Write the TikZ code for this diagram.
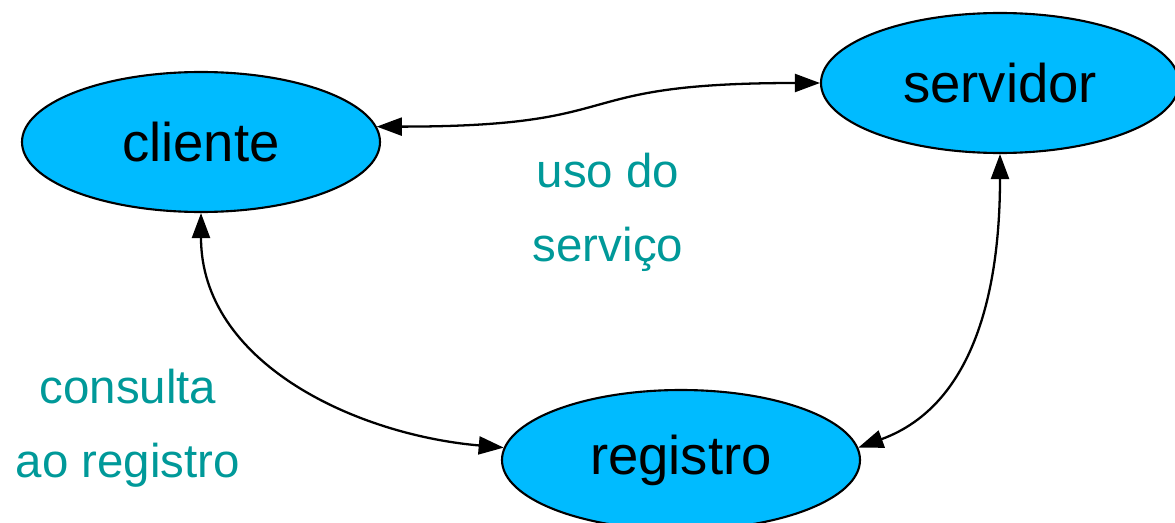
\documentclass[tikz,border=0pt]{standalone}
\usepackage{fontspec}
\setmainfont{Liberation Sans}
\usepackage{xcolor}
\usepackage{tikz}
\usetikzlibrary{positioning,shapes.geometric,arrows.meta}
\definecolor{AzulCeu}{RGB}{0,187,255}
\definecolor{Verdeagua}{RGB}{0,153,153}
\tikzset{
    papel/.style={ellipse, draw=black, fill=AzulCeu, line width=0.6pt, minimum width=3.58cm, minimum height=1.4cm, inner sep=0pt, font=\fontsize{15.5}{18}\selectfont},
    rotulo/.style={text=Verdeagua, align=center, font=\fontsize{13.5}{21}\selectfont},
    ligacao/.style={draw=black, line width=0.65pt, <->}
}

\begin{document}
\begin{tikzpicture}[
        >={Triangle[length=2.5mm, width=1.8mm]}
    ]
        \useasboundingbox (0,0) rectangle (11.75,5.22);

        % --- Os tres papeis ---
        \node[papel] (cliente) at (2.01, 3.80) {cliente};
        \node[papel] (servidor) at (10.00, 4.39) {servidor};
        \node[papel] (registro) at (6.81, 0.62) {registro};

        % --- Ligacoes ---
        \draw[ligacao] (cliente.5) to[out=0, in=180, looseness=1.5] (servidor.west);
        \draw[ligacao] (cliente.south) to[out=-90, in=175] (registro.176);
        \draw[ligacao] (servidor.south) to[out=-90, in=20] (registro.4);

        % --- Rotulos ---
        \node[rotulo] (uso) at (6.08, 3.10) {uso do\\servi\c{c}o};
        \node[rotulo] (consulta) at (1.28, 0.94) {consulta\\ao registro};

    \end{tikzpicture}
\end{document}
